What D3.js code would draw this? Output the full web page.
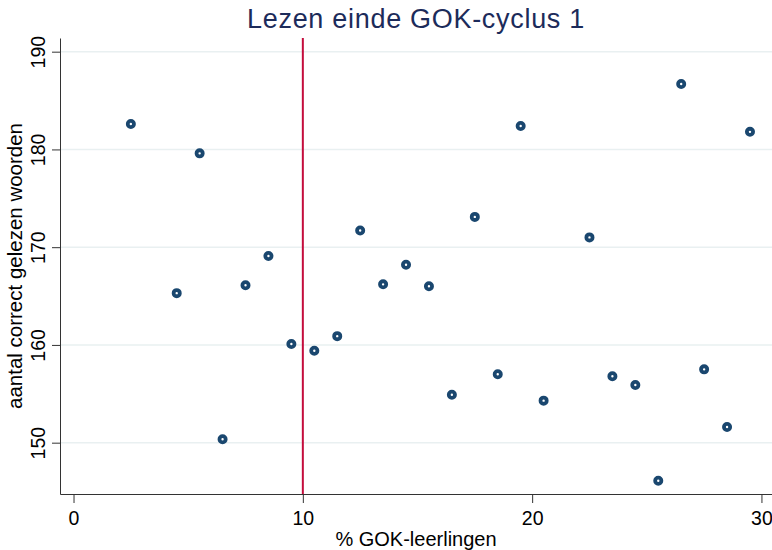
<!DOCTYPE html>
<html>
<head>
<meta charset="utf-8">
<script src="https://cdn.jsdelivr.net/npm/d3@7"></script>
<style>
  body { margin: 0; background: #fff; }
  svg { display: block; font-family: "Liberation Sans", Arial, sans-serif; }
</style>
</head>
<body>
<div id="chart"></div>
<script>
const title = "Lezen einde GOK-cyclus 1";
const xLabel = "% GOK-leerlingen";
const yLabel = "aantal correct gelezen woorden";

// % GOK-leerlingen per school
const gokPct = [2.5, 4.5, 5.5, 6.5, 7.5, 8.5, 9.5, 10.5, 11.5, 12.5, 13.5, 14.5, 15.5,
  16.5, 17.5, 18.5, 19.5, 20.5, 22.5, 23.5, 24.5, 25.5, 26.5, 27.5, 28.5, 29.5];
// aantal correct gelezen woorden
const words = [182.6, 165.3, 179.6, 150.35, 166.1, 169.1, 160.1, 159.4, 160.9, 171.7, 166.2, 168.2, 166.0,
  154.9, 173.1, 157.0, 182.4, 154.3, 171.0, 156.8, 155.9, 146.1, 186.7, 157.5, 151.6, 181.8];

const xTicks = [0, 10, 20, 30];
const yTicks = [150, 160, 170, 180, 190];
const refLine = 10;

const width = 772, height = 550;
const plot = {left: 60, right: 772, top: 38, bottom: 494};

const svg = d3.select("#chart").append("svg")
  .attr("width", width)
  .attr("height", height);

const x = d3.scaleLinear()
  .domain([-0.59, 30.46])
  .range([plot.left, plot.right]);

const y = d3.scaleLinear()
  .domain([144.75, 191.4])
  .range([plot.bottom, plot.top]);

// gridlines
svg.append("g")
  .selectAll("line")
  .data(yTicks)
  .join("line")
    .attr("x1", plot.left)
    .attr("x2", plot.right)
    .attr("y1", d => y(d))
    .attr("y2", d => y(d))
    .attr("stroke", "#e9f0f1")
    .attr("stroke-width", 1.5);

// reference line at 10%
svg.append("line")
  .attr("x1", x(refLine))
  .attr("x2", x(refLine))
  .attr("y1", plot.top)
  .attr("y2", plot.bottom)
  .attr("stroke", "#c40d3c")
  .attr("stroke-width", 2);

// axes
const xAxis = svg.append("g")
  .attr("transform", `translate(0,${plot.bottom})`)
  .call(d3.axisBottom(x).tickValues(xTicks).tickSize(9).tickSizeOuter(0).tickPadding(8));

const yAxis = svg.append("g")
  .attr("transform", `translate(${plot.left},0)`)
  .call(d3.axisLeft(y).tickValues(yTicks).tickSize(8).tickSizeOuter(0));

[xAxis, yAxis].forEach(g => {
  g.select(".domain").attr("stroke", "#333");
  g.selectAll(".tick line").attr("stroke", "#333");
  g.selectAll(".tick text")
    .attr("fill", "#000")
    .style("font-family", "'Liberation Sans', Arial, sans-serif")
    .style("font-size", "19.5px");
});

yAxis.selectAll(".tick text")
  .attr("x", null)
  .attr("dy", null)
  .attr("text-anchor", "middle")
  .attr("transform", "translate(-15,0) rotate(-90)");

// points
svg.append("g")
  .selectAll("circle")
  .data(gokPct.map((g, i) => [g, words[i]]))
  .join("circle")
    .attr("cx", d => x(d[0]))
    .attr("cy", d => y(d[1]))
    .attr("r", 3.1)
    .attr("fill", "#fff")
    .attr("stroke", "#1a476f")
    .attr("stroke-width", 3.8);

// titles
svg.append("text")
  .attr("x", (plot.left + plot.right) / 2)
  .attr("y", 28)
  .attr("text-anchor", "middle")
  .attr("fill", "#1c2b5a")
  .style("font-size", "27px")
  .style("letter-spacing", "0.7px")
  .text(title);

svg.append("text")
  .attr("x", (plot.left + plot.right) / 2)
  .attr("y", 546)
  .attr("text-anchor", "middle")
  .attr("fill", "#000")
  .style("font-size", "20px")
  .text(xLabel);

svg.append("text")
  .attr("transform", `translate(22,${(plot.top + plot.bottom) / 2}) rotate(-90)`)
  .attr("text-anchor", "middle")
  .attr("fill", "#000")
  .style("font-size", "20.5px")
  .text(yLabel);
</script>
</body>
</html>
